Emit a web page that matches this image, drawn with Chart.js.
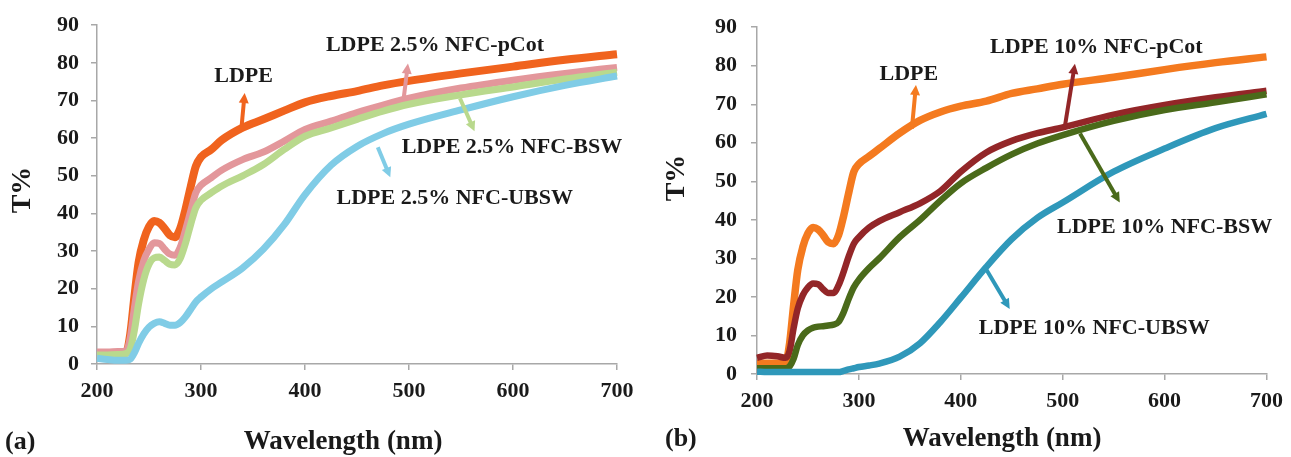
<!DOCTYPE html>
<html>
<head>
<meta charset="utf-8">
<title>LDPE / NFC transmittance</title>
<script src="https://cdn.jsdelivr.net/npm/chart.js@4.4.1/dist/chart.umd.min.js"></script>
<style>
  html, body { margin: 0; padding: 0; background: #fff; }
  #wrap { position: relative; width: 1291px; height: 457px; overflow: hidden; }
  .panel { position: absolute; top: 0; height: 457px; }
  #panel-a { left: 0; width: 645px; }
  #panel-b { left: 645px; width: 646px; }
</style>
</head>
<body>
<div id="wrap">
  <div class="panel" id="panel-a"><canvas id="chart-a"></canvas></div>
  <div class="panel" id="panel-b"><canvas id="chart-b"></canvas></div>
</div>
<script>
// shared axes
const WAVELENGTH = [200, 210, 220, 228, 232, 236, 240, 245, 250, 255, 260, 265, 270, 275, 280, 285, 290, 295,
  300, 310, 320, 340, 360, 380, 400, 425, 450, 475, 500, 550, 600, 650, 700];
const X_TICKS = [200, 300, 400, 500, 600, 700];
const Y_TICKS = [0, 10, 20, 30, 40, 50, 60, 70, 80, 90];

// (a) LDPE + 2.5% NFC
const A_LDPE = [2.5, 2.5, 2.6, 3, 8, 18, 27, 33, 36.5, 38, 37.5, 36, 34.2, 33.7, 36, 41, 47, 52.5,
  55, 57, 59.5, 62.8, 65, 67.3, 69.5, 71.2, 72.5, 74, 75.2, 77.2, 79, 80.8, 82.3];
const A_PCOT = [3.2, 3.2, 3.3, 3.5, 7, 15, 22, 27.5, 30.5, 32.2, 32, 30.5, 29.2, 28.9, 31, 35.5, 40.5, 45.5,
  47.5, 49.5, 51.5, 54.3, 56.3, 59.2, 62.3, 64.5, 66.8, 68.8, 70.6, 73.3, 75.4, 77.2, 78.8];
const A_BSW = [2.4, 2.4, 2.5, 2.8, 4, 9, 16, 22.5, 26.5, 28.2, 28.4, 27.5, 26.5, 26.3, 28, 32, 37, 41.5,
  43.5, 45.5, 47.3, 50, 53, 57, 60.5, 62.7, 65, 67.2, 69, 71.5, 73.6, 75.7, 77.5];
const A_UBSW = [1.5, 1.2, 1, 1, 1.3, 3, 5.5, 8, 9.8, 10.8, 11.2, 10.8, 10.3, 10.3, 11, 12.5, 14.5, 16.5,
  17.8, 20, 21.8, 25.5, 30.5, 37, 45, 52.8, 57.8, 61.2, 63.7, 67.5, 71, 74, 76.5];

// (b) LDPE + 10% NFC
const B_LDPE = [2.8, 2.8, 2.8, 3, 8, 18, 27, 33, 36.5, 38, 37.5, 36, 34.2, 33.8, 36, 41, 47, 52.5,
  54.5, 56.5, 58.5, 62.5, 65.8, 68, 69.5, 70.8, 72.8, 74, 75.2, 77, 79, 80.8, 82.3];
const B_PCOT = [4.2, 4.8, 4.6, 4.2, 6, 12, 17, 20.5, 22.5, 23.5, 23.3, 22, 21, 21, 23, 26.5, 30.5, 33.8,
  35.5, 38, 39.7, 42, 44.3, 47.5, 52.5, 57.5, 60.5, 62.5, 64, 67.3, 69.8, 71.8, 73.5];
const B_BSW = [1.5, 1.5, 1.5, 1.5, 2, 4, 7.5, 10, 11.3, 12, 12.3, 12.4, 12.6, 12.8, 13.5, 16, 19.5, 22.5,
  24.5, 27.5, 30, 35.5, 40, 45, 49.5, 53.5, 57, 59.8, 62, 65.7, 68.5, 70.5, 72.6];
const B_UBSW = [0.6, 0.5, 0.5, 0.5, 0.5, 0.5, 0.5, 0.5, 0.5, 0.5, 0.5, 0.5, 0.5, 0.5, 0.5, 0.8, 1.2, 1.5,
  1.8, 2.2, 2.7, 4.5, 8, 13.5, 19.8, 27.8, 35, 40.5, 44.5, 52.5, 58.5, 63.8, 67.5];

const COLORS_A = { ldpe: '#F0631E', pcot: '#E3979B', bsw: '#B9D98D', ubsw: '#80CCE6' };
const COLORS_B = { ldpe: '#F47A1F', pcot: '#932628', bsw: '#4A6A1A', ubsw: '#2F98BA' };

// callout labels: text position and arrow (tail on the curve -> head) in data units
const CALLOUTS_A = [
  { text: 'LDPE', at: [341, 76.3], from: [339, 63], to: [342, 72], color: COLORS_A.ldpe },
  { text: 'LDPE 2.5% NFC-pCot', at: [525, 84.6], from: [495, 70.8], to: [499, 79.8], color: COLORS_A.pcot },
  { text: 'LDPE 2.5% NFC-BSW', at: [599, 57.6], from: [549, 70.6], to: [563, 61.8], color: COLORS_A.bsw },
  { text: 'LDPE 2.5% NFC-UBSW', at: [544, 44], from: [470, 57.6], to: [482, 49.6], color: COLORS_A.ubsw },
];
const CALLOUTS_B = [
  { text: 'LDPE', at: [349, 77.7], from: [352, 63.7], to: [356, 75], color: COLORS_B.ldpe },
  { text: 'LDPE 10% NFC-pCot', at: [533, 84.9], from: [502, 64], to: [512, 80.5], color: COLORS_B.pcot },
  { text: 'LDPE 10% NFC-BSW', at: [600, 38.1], from: [517, 62.4], to: [556, 44.5], color: COLORS_B.bsw },
  { text: 'LDPE 10% NFC-UBSW', at: [531, 11.8], from: [424, 27.6], to: [448, 16.9], color: COLORS_B.ubsw },
];

const SERIF = "'Liberation Serif', 'Times New Roman', serif";
const INK = '#1a1a1a';
const AXIS_GREY = '#a8a8a8';

function pairs(ys) {
  return WAVELENGTH.map((x, i) => ({ x, y: ys[i] }));
}

function drawArrow(ctx, x0, y0, x1, y1, color) {
  const ang = Math.atan2(y1 - y0, x1 - x0);
  const head = 10;
  ctx.strokeStyle = color;
  ctx.fillStyle = color;
  ctx.lineWidth = 4;
  ctx.lineCap = 'butt';
  ctx.beginPath();
  ctx.moveTo(x0, y0);
  ctx.lineTo(x1 - Math.cos(ang) * head * 0.8, y1 - Math.sin(ang) * head * 0.8);
  ctx.stroke();
  ctx.beginPath();
  ctx.moveTo(x1, y1);
  ctx.lineTo(x1 - head * Math.cos(ang) + 5 * Math.sin(ang), y1 - head * Math.sin(ang) - 5 * Math.cos(ang));
  ctx.lineTo(x1 - head * Math.cos(ang) - 5 * Math.sin(ang), y1 - head * Math.sin(ang) + 5 * Math.cos(ang));
  ctx.closePath();
  ctx.fill();
}

const calloutPlugin = {
  id: 'callouts',
  afterDatasetsDraw(chart, args, opts) {
    const { ctx } = chart;
    const sx = chart.scales.x;
    const sy = chart.scales.y;
    ctx.save();
    (opts.items || []).forEach((it) => {
      drawArrow(ctx,
        sx.getPixelForValue(it.from[0]), sy.getPixelForValue(it.from[1]),
        sx.getPixelForValue(it.to[0]), sy.getPixelForValue(it.to[1]), it.color);
      ctx.font = 'bold 22px ' + SERIF;
      ctx.fillStyle = INK;
      ctx.textAlign = 'center';
      ctx.textBaseline = 'middle';
      ctx.fillText(it.text, sx.getPixelForValue(it.at[0]), sy.getPixelForValue(it.at[1]));
    });

    // axis titles and panel letter
    const t = opts.titles;
    ctx.fillStyle = INK;
    ctx.textBaseline = 'alphabetic';
    ctx.font = 'bold 27px ' + SERIF;
    ctx.textAlign = 'center';
    ctx.fillText(t.x, t.xPos[0], t.xPos[1]);
    ctx.textAlign = 'left';
    ctx.font = 'bold 26px ' + SERIF;
    ctx.fillText(t.panel, t.panelPos[0], t.panelPos[1]);
    ctx.save();
    ctx.translate(t.yPos[0], t.yPos[1]);
    ctx.rotate(-Math.PI / 2);
    ctx.font = 'bold 28px ' + SERIF;
    ctx.textAlign = 'center';
    ctx.textBaseline = 'middle';
    ctx.fillText(t.y, 0, 0);
    ctx.restore();
    ctx.restore();
  },
};

function makeChart(canvasId, series, colors, callouts, geom, titles) {
  const mk = (label, ys, color, extra) => ({
    label,
    data: pairs(ys),
    borderColor: color,
    backgroundColor: color,
    borderWidth: geom.lineWidth + (extra || 0),
    pointRadius: 0,
    cubicInterpolationMode: 'monotone',
    clip: false,
  });

  return new Chart(document.getElementById(canvasId), {
    type: 'line',
    data: {
      datasets: [
        mk('UBSW', series.ubsw, colors.ubsw),
        mk('BSW', series.bsw, colors.bsw),
        mk('pCot', series.pcot, colors.pcot),
        mk('LDPE', series.ldpe, colors.ldpe, 1),
      ],
    },
    options: {
      responsive: true,
      maintainAspectRatio: false,
      animation: false,
      events: [],
      layout: { padding: { top: geom.top, right: geom.right, left: 0, bottom: 0 } },
      plugins: {
        legend: { display: false },
        tooltip: { enabled: false },
        callouts: { items: callouts, titles },
      },
      scales: {
        x: {
          type: 'linear',
          min: 200,
          max: 700,
          afterBuildTicks: (s) => { s.ticks = X_TICKS.map((v) => ({ value: v })); },
          afterFit: (s) => { s.height = geom.xHeight; },
          ticks: { color: INK, padding: 8, font: { family: SERIF, size: 22, weight: 'bold' } },
          grid: { drawOnChartArea: false, drawTicks: true, tickLength: 6, color: AXIS_GREY, lineWidth: 1.5 },
          border: { color: AXIS_GREY, width: 1.5 },
        },
        y: {
          min: 0,
          max: 90,
          afterBuildTicks: (s) => { s.ticks = Y_TICKS.map((v) => ({ value: v })); },
          afterFit: (s) => { s.width = geom.yWidth; },
          ticks: { color: INK, padding: geom.yPad, font: { family: SERIF, size: 22, weight: 'bold' } },
          grid: { drawOnChartArea: false, drawTicks: true, tickLength: 6, color: AXIS_GREY, lineWidth: 1.5 },
          border: { color: AXIS_GREY, width: 1.5 },
        },
      },
    },
    plugins: [calloutPlugin],
  });
}

makeChart('chart-a',
  { ldpe: A_LDPE, pcot: A_PCOT, bsw: A_BSW, ubsw: A_UBSW },
  COLORS_A, CALLOUTS_A,
  { top: 25, right: 28, xHeight: 93, yWidth: 97, yPad: 12, lineWidth: 7 },
  { x: 'Wavelength (nm)', y: 'T%', panel: '(a)', xPos: [343, 449], yPos: [23, 190], panelPos: [5, 449] });

makeChart('chart-b',
  { ldpe: B_LDPE, pcot: B_PCOT, bsw: B_BSW, ubsw: B_UBSW },
  COLORS_B, CALLOUTS_B,
  { top: 22, right: 20, xHeight: 83, yWidth: 112, yPad: 14, lineWidth: 6.5 },
  { x: 'Wavelength (nm)', y: 'T%', panel: '(b)', xPos: [357, 446], yPos: [32, 178], panelPos: [20, 446] });
</script>
</body>
</html>
